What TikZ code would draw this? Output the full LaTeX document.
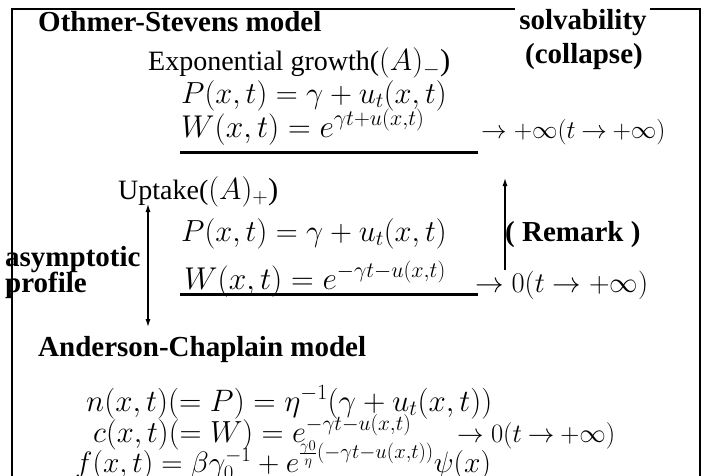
\RequirePackage{fix-cm}
\documentclass[tikz,border=0pt]{standalone}
\usepackage[no-math]{fontspec}
\setmainfont{Liberation Serif}
\usetikzlibrary{arrows.meta}
\newcommand{\fsz}[1]{\fontsize{#1}{#1}\selectfont}
\begin{document}
\begin{tikzpicture}[x=1pt,y=-1pt,
  txt/.style={anchor=base west, inner sep=0pt, font=\fsz{28}},
  mth/.style={anchor=base west, inner sep=0pt, font=\fsz{30.5}},
  bold/.style={anchor=base west, inner sep=0pt, font=\fsz{29}\bfseries},
  boldc/.style={anchor=base, inner sep=0pt, font=\fsz{29}\bfseries},
  frame/.style={line width=2.5pt},
  uline/.style={line width=3pt},
  arr/.style={line width=2pt, -{Latex[length=9pt,width=5pt]}},
  darr/.style={line width=2pt, {Latex[length=9pt,width=5pt]}-{Latex[length=9pt,width=5pt]}}
]
\useasboundingbox (0,0) rectangle (706,476);
% frame
\draw[frame] (515,9) -- (12,9) -- (12,490);
\draw[frame] (650,9) -- (700,9) -- (700,490);
% Othmer-Stevens part
\node[bold] (os) at (38,32) {Othmer-Stevens model};
\node[boldc] (solv) at (583,30) {solvability};
\node[boldc] (coll) at (584,64) {(collapse)};
\node[txt] (exp) at (148,71) {Exponential growth(\fsz{30.5}$(A)_-$)};
\node[mth] (Pu) at (181,103) {$P(x,t)=\gamma+u_t(x,t)$};
\node[mth, font=\fsz{31.5}] (Wu) at (181,137) {$W(x,t)=e^{\gamma t+u(x,t)}$};
\node[mth, font=\fsz{25.5}] (infu) at (481,138) {$\rightarrow{+}\infty(t\mathbin{\rightarrow}{+}\infty)$};
\draw[uline] (180,152) -- (478,152);
% Uptake part
\node[txt] (up) at (118,199) {Uptake(\fsz{30.5}$(A)_+$)};
\node[mth] (Pl) at (181,241) {$P(x,t)=\gamma+u_t(x,t)$};
\node[bold] (rem) at (505,241) {( Remark )};
\node[bold] (asy) at (5,266) {asymptotic};
\node[bold] (prof) at (5,292) {profile};
\node[mth, font=\fsz{31.5}] (Wl) at (184,289) {$W(x,t)=e^{-\gamma t-u(x,t)}$};
\node[mth, font=\fsz{28.5}] (zl) at (475,292) {$\rightarrow 0(t\rightarrow +\infty)$};
\draw[uline] (180,294) -- (478,294);
% arrows
\coordinate (remS) at (505,270);
\coordinate (remT) at (505,177);
\draw[arr] (remS) -- (remT);
\coordinate (asyT) at (148,203);
\coordinate (asyB) at (148,328);
\draw[darr] (asyB) -- (asyT);
% Anderson-Chaplain part
\node[bold] (ac) at (38,356) {Anderson-Chaplain model};
\node[mth, font=\fsz{31}] (n) at (86,411) {$n(x,t)(=P)=\eta^{-1}(\gamma+u_t(x,t))$};
\node[mth] (c) at (93,442) {$c(x,t)(=W)=e^{-\gamma t-u(x,t)}$};
\node[mth, font=\fsz{26.5}] (ct) at (457,442) {$\rightarrow 0(t\mathbin{\rightarrow}{+}\infty)$};
\node[mth, font=\fsz{29.5}] (f) at (75,472) {$f(x,t)=\beta\gamma_0^{-1}+e^{\frac{\gamma 0}{\eta}(-\gamma t-u(x,t))}\psi(x)$};
\end{tikzpicture}
\end{document}
